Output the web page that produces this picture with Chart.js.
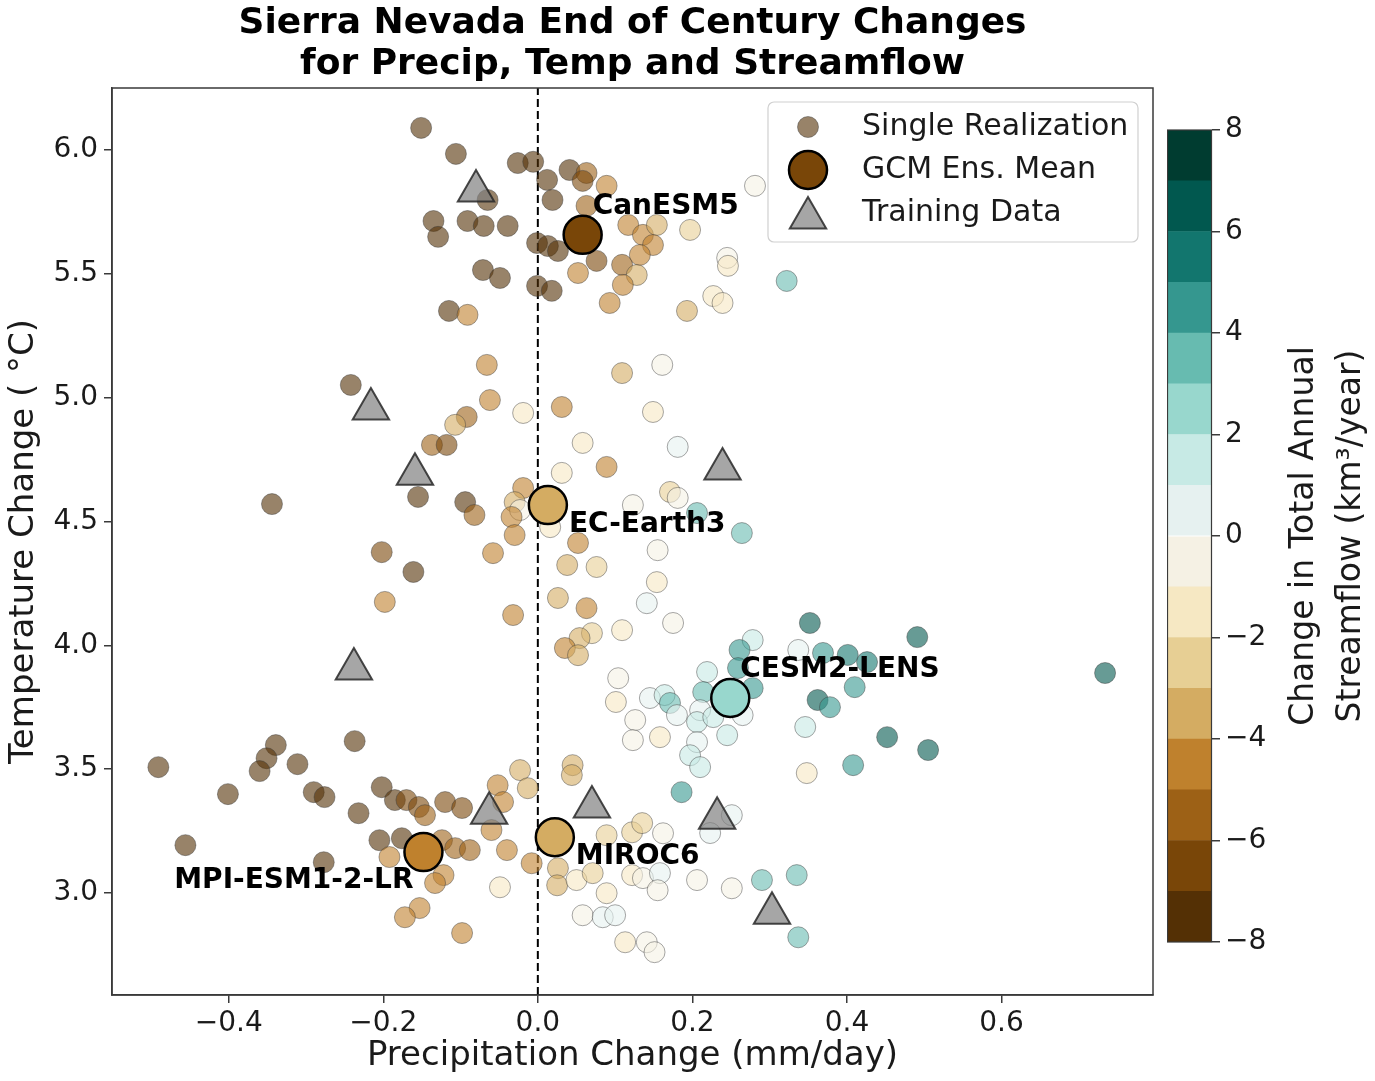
<!DOCTYPE html>
<html>
<head>
<meta charset="utf-8">
<title>Sierra Nevada End of Century Changes</title>
<script src="https://cdn.jsdelivr.net/npm/chart.js@4.4.0/dist/chart.umd.min.js"></script>
<style>
  html, body { margin: 0; padding: 0; background: #fff; }
  #wrap { position: relative; width: 1375px; height: 1081px; overflow: hidden; }
  #main { position: absolute; left: 0; top: 0; }
  #cbar { position: absolute; left: 1167px; top: 0; }
</style>
</head>
<body>
<div id="wrap">
  <canvas id="main" width="1375" height="1081" style="width:1375px;height:1081px"></canvas>
  <canvas id="cbar" width="208" height="1081" style="width:208px;height:1081px"></canvas>
</div>
<script>
// single realizations: precip change (mm/day), temp change (C), streamflow change (km3/yr)
const precipChange = [
  -0.151, -0.106, -0.065, -0.026, -0.006, 0.012, 0.019, 0.041, 0.063, 0.058,
  0.089, -0.135, -0.129, -0.091, -0.070, -0.039, -0.001, 0.013, 0.026, 0.063,
  0.117, 0.136, 0.154, 0.149, 0.132, 0.109, 0.128, 0.110, 0.076, 0.052,
  0.197, 0.281, 0.245, 0.246, 0.227, 0.239, 0.193, 0.093, -0.001, 0.018,
  -0.071, -0.049, -0.115, -0.091, 0.322, -0.066, 0.109, 0.161, -0.062, -0.242,
  0.031, -0.019, 0.149, -0.092, -0.107, -0.137, -0.118, 0.058, 0.181, 0.089,
  0.031, -0.155, -0.344, -0.094, -0.082, -0.019, -0.030, -0.023, -0.034, -0.030,
  0.016, 0.052, 0.123, 0.171, 0.181, 0.206, 0.264, 0.155, -0.058, -0.202,
  -0.161, -0.198, 0.038, 0.076, 0.154, 0.141, 0.026, 0.063, -0.032, 0.109,
  0.175, 0.070, 0.054, 0.035, 0.052, 0.104, 0.101, 0.352, 0.491, 0.734,
  0.278, 0.261, 0.337, 0.369, 0.401, 0.426, 0.219, 0.259, 0.278, 0.410,
  0.214, 0.145, 0.164, 0.171, 0.362, 0.378, 0.210, 0.180, 0.206, 0.265,
  0.227, 0.126, 0.346, 0.123, 0.158, 0.206, 0.245, 0.197, 0.210, 0.452,
  0.505, 0.408, 0.348, 0.186, 0.251, 0.223, 0.045, 0.044, -0.023, -0.013,
  -0.052, -0.045, -0.060, -0.040, -0.008, 0.026, 0.025, -0.049, -0.098, 0.089,
  0.122, 0.135, 0.162, 0.050, 0.071, 0.122, 0.136, 0.158, 0.155, 0.206,
  0.251, 0.290, 0.089, 0.058, 0.084, 0.100, 0.113, 0.141, 0.151, 0.335,
  0.337, -0.491, -0.456, -0.401, -0.339, -0.351, -0.360, -0.311, -0.237, -0.290,
  -0.276, -0.232, -0.202, -0.185, -0.170, -0.154, -0.146, -0.120, -0.205, -0.176,
  -0.192, -0.124, -0.107, -0.277, -0.122, -0.133, -0.153, -0.172, -0.088, -0.098
];
const tempChange = [
  6.089, 5.984, 5.798, 5.947, 5.952, 5.879, 5.798, 5.919, 5.907, 5.875,
  5.855, 5.713, 5.649, 5.713, 5.693, 5.693, 5.624, 5.612, 5.592, 5.774,
  5.697, 5.657, 5.697, 5.616, 5.576, 5.536, 5.495, 5.455, 5.552, 5.503,
  5.677, 5.855, 5.564, 5.532, 5.410, 5.382, 5.350, 5.382, 5.451, 5.431,
  5.515, 5.483, 5.350, 5.334, 5.471, 5.132, 5.099, 5.132, 4.990, 5.051,
  4.962, 4.938, 4.942, 4.922, 4.890, 4.809, 4.809, 4.817, 4.801, 4.720,
  4.696, 4.599, 4.570, 4.578, 4.526, 4.635, 4.578, 4.546, 4.518, 4.445,
  4.477, 4.413, 4.566, 4.619, 4.595, 4.534, 4.453, 4.384, 4.372, 4.376,
  4.296, 4.175, 4.324, 4.316, 4.255, 4.170, 4.191, 4.150, 4.122, 4.061,
  4.090, 4.049, 4.029, 3.989, 3.960, 3.867, 3.771, 4.090, 4.033, 3.888,
  4.021, 3.981, 3.981, 3.969, 3.961, 3.932, 3.892, 3.908, 3.827, 3.831,
  3.811, 3.787, 3.799, 3.767, 3.779, 3.750, 3.738, 3.718, 3.690, 3.718,
  3.710, 3.698, 3.670, 3.617, 3.629, 3.609, 3.637, 3.556, 3.508, 3.629,
  3.577, 3.516, 3.484, 3.407, 3.314, 3.242, 3.516, 3.476, 3.496, 3.423,
  3.435, 3.367, 3.254, 3.173, 3.120, 3.100, 3.031, 3.023, 2.838, 3.233,
  3.245, 3.282, 3.241, 3.052, 3.080, 3.072, 3.060, 3.080, 3.011, 3.052,
  3.019, 3.052, 2.999, 2.910, 2.902, 2.910, 2.801, 2.801, 2.761, 3.072,
  2.821, 3.508, 3.193, 3.399, 3.597, 3.544, 3.492, 3.520, 3.613, 3.407,
  3.387, 3.322, 3.427, 3.375, 3.375, 3.347, 3.314, 3.367, 3.213, 3.221,
  3.145, 3.213, 3.181, 3.124, 3.072, 3.040, 2.939, 2.902, 3.173, 3.343
];
const flowChange = [
  -7.5, -7.5, -7.5, -7.5, -7.5, -7.5, -7.5, -7.5, -5.5, -6.5,
  -4.5, -7.5, -7.5, -7.5, -7.5, -7.5, -7.5, -7.5, -7.5, -5.5,
  -4.5, -4.5, -3.5, -4.5, -4.5, -5.5, -3.5, -4.5, -6.5, -4.5,
  -2.5, -0.5, -0.5, -1.5, -1.5, -1.5, -3.5, -4.5, -7.5, -7.5,
  -7.5, -7.5, -7.5, -4.5, 3.5, -4.5, -3.5, -0.5, -4.5, -7.5,
  -4.5, -1.5, -1.5, -5.5, -3.5, -5.5, -6.5, -1.5, 0.5, -4.5,
  -1.5, -7.5, -7.5, -7.5, -5.5, -4.5, -3.5, -0.5, -4.5, -4.5,
  -1.5, -4.5, -0.5, -2.5, -0.5, 3.5, 3.5, -0.5, -4.5, -6.5,
  -7.5, -4.5, -3.5, -2.5, -1.5, 0.5, -3.5, -4.5, -4.5, -1.5,
  -0.5, -2.5, -3.5, -4.5, -3.5, -0.5, -1.5, 6.5, 6.5, 6.5,
  1.5, 4.5, 0.5, 4.5, 5.5, 5.5, 1.5, 4.5, 4.5, 4.5,
  3.5, 0.5, 1.5, 3.5, 6.5, 4.5, 0.5, 0.5, 1.5, 0.5,
  1.5, -0.5, 1.5, -0.5, -1.5, 0.5, 1.5, 1.5, 1.5, 6.5,
  6.5, 4.5, -1.5, 4.5, 0.5, 0.5, -3.5, -3.5, -3.5, -3.5,
  -4.5, -4.5, -4.5, -4.5, -4.5, -3.5, -3.5, -1.5, -4.5, -2.5,
  -2.5, -2.5, -0.5, -1.5, -2.5, -1.5, -0.5, 0.5, -0.5, -0.5,
  -0.5, 3.5, -1.5, -0.5, 0.5, 0.5, -1.5, -0.5, -0.5, 3.5,
  3.5, -7.5, -7.5, -7.5, -7.5, -7.5, -7.5, -7.5, -7.5, -7.5,
  -7.5, -7.5, -7.5, -7.5, -6.5, -6.5, -5.5, -6.5, -7.5, -7.5,
  -4.5, -5.5, -5.5, -7.5, -4.5, -4.5, -4.5, -4.5, -5.5, -6.5
];

// GCM ensemble means
const gcmNames = ['CanESM5', 'EC-Earth3', 'CESM2-LENS', 'MIROC6', 'MPI-ESM1-2-LR'];
const gcmPrecip = [0.058, 0.013, 0.249, 0.022, -0.148];
const gcmTemp = [5.657, 4.566, 3.787, 3.225, 3.165];
const gcmFlow = [-6.5, -3.5, 2.5, -3.5, -4.5];

// training data
const trainPrecip = [-0.080, -0.216, -0.159, 0.239, -0.238, -0.063, 0.070, 0.232, 0.303];
const trainTemp = [5.834, 4.954, 4.691, 4.712, 3.904, 3.322, 3.347, 3.302, 2.918];

const xTicks = [-0.4, -0.2, 0.0, 0.2, 0.4, 0.6];
const yTicks = [3.0, 3.5, 4.0, 4.5, 5.0, 5.5, 6.0];
const cbarTicks = [-8, -6, -4, -2, 0, 2, 4, 6, 8];
const cbarEdges = [-8, -7, -6, -5, -4, -3, -2, -1, 0, 1, 2, 3, 4, 5, 6, 7, 8];

const X_MIN = -0.551, X_MAX = 0.796, Y_MIN = 2.588, Y_MAX = 6.25;
const FONT = 'DejaVu Sans';
const TEXT = '#1a1a1a';
const AXIS = '#3a3a3a';
const POINT_ALPHA = 0.6;

Chart.defaults.font.family = FONT;
Chart.defaults.color = TEXT;

// BrBG colormap, 16 discrete levels
const brbgStops = ['#543005', '#8c510a', '#bf812d', '#dfc27d', '#f6e8c3', '#f5f5f5',
                   '#c7eae5', '#80cdc1', '#35978f', '#01665e', '#003c30'];
function hexRgb(h) {
  return [1, 3, 5].map(i => parseInt(h.substr(i, 2), 16));
}
function brbg(t) {
  const n = brbgStops.length - 1;
  const p = t * n;
  const i = Math.min(Math.floor(p), n - 1);
  const f = p - i;
  const a = hexRgb(brbgStops[i]), b = hexRgb(brbgStops[i + 1]);
  return a.map((c, k) => Math.round(c + (b[k] - c) * f));
}
function flowColor(v, alpha = 1) {
  const bin = Math.max(0, Math.min(15, Math.floor(v + 8)));
  const c = brbg(bin / 15);
  return `rgba(${c[0]}, ${c[1]}, ${c[2]}, ${alpha})`;
}
const minus = s => s.replace('-', '\u2212');

// label offsets (px) for the model names next to the ensemble means
const labelOffsets = {
  'CanESM5': [10, -28, 'left'],
  'EC-Earth3': [21, 20, 'left'],
  'CESM2-LENS': [10, -28, 'left'],
  'MIROC6': [21, 19, 'left'],
  'MPI-ESM1-2-LR': [-10, 29, 'right']
};

function drawTriangle(ctx, x, y, r) {
  ctx.beginPath();
  for (let k = 0; k < 3; k++) {
    const a = k * 2 * Math.PI / 3;
    const px = x + Math.sin(a) * r, py = y - Math.cos(a) * r;
    if (k === 0) ctx.moveTo(px, py); else ctx.lineTo(px, py);
  }
  ctx.closePath();
  ctx.fill();
  ctx.stroke();
}
function drawCircle(ctx, x, y, r) {
  ctx.beginPath();
  ctx.arc(x, y, r, 0, Math.PI * 2);
  ctx.fill();
  ctx.stroke();
}

const mainDecor = {
  id: 'mainDecor',
  afterDraw(chart) {
    const ctx = chart.ctx;
    const a = chart.chartArea;
    const xs = chart.scales.x, ys = chart.scales.y;
    ctx.save();

    // axes frame
    ctx.strokeStyle = AXIS;
    ctx.lineWidth = 1.5;
    ctx.strokeRect(a.left, a.top, a.right - a.left, a.bottom - a.top);

    // title, centred over the axes
    ctx.fillStyle = '#000';
    ctx.font = `bold 36px ${FONT}`;
    ctx.textAlign = 'center';
    ctx.textBaseline = 'middle';
    const cx = (a.left + a.right) / 2;
    ctx.fillText('Sierra Nevada End of Century Changes', cx, a.top - 64);
    ctx.fillText('for Precip, Temp and Streamflow', cx, a.top - 23);

    // model names
    ctx.font = `bold 28px ${FONT}`;
    gcmNames.forEach((name, i) => {
      const [dx, dy, align] = labelOffsets[name];
      ctx.textAlign = align;
      ctx.fillText(name, xs.getPixelForValue(gcmPrecip[i]) + dx, ys.getPixelForValue(gcmTemp[i]) + dy);
    });

    // legend box (upper right)
    const w = 370, h = 140;
    const lx = a.right - 15 - w, ly = a.top + 14;
    ctx.beginPath();
    ctx.roundRect(lx, ly, w, h, 6);
    ctx.fillStyle = 'rgba(255,255,255,0.85)';
    ctx.fill();
    ctx.strokeStyle = '#d0d0d0';
    ctx.lineWidth = 1.2;
    ctx.stroke();

    const sx = lx + 40;
    const rows = [ly + 25, ly + 68, ly + 111];
    ctx.fillStyle = flowColor(-7.5, POINT_ALPHA);
    ctx.strokeStyle = 'rgba(60,60,60,0.45)';
    ctx.lineWidth = 1;
    drawCircle(ctx, sx, rows[0], 10.5);
    ctx.fillStyle = flowColor(-6.5);
    ctx.strokeStyle = '#000';
    ctx.lineWidth = 2.5;
    drawCircle(ctx, sx, rows[1], 19);
    ctx.fillStyle = 'rgba(128,128,128,0.7)';
    ctx.strokeStyle = 'rgba(40,40,40,0.85)';
    ctx.lineWidth = 2;
    drawTriangle(ctx, sx, rows[2] + 5, 21);

    ctx.fillStyle = TEXT;
    ctx.font = `30px ${FONT}`;
    ctx.textAlign = 'left';
    ctx.textBaseline = 'middle';
    ctx.fillText('Single Realization', lx + 94, rows[0]);
    ctx.fillText('GCM Ens. Mean', lx + 94, rows[1]);
    ctx.fillText('Training Data', lx + 94, rows[2]);
    ctx.restore();
  }
};

const mainChart = new Chart(document.getElementById('main'), {
  type: 'scatter',
  data: {
    datasets: [
      {
        label: 'zero',
        data: [{ x: 0, y: Y_MIN }, { x: 0, y: Y_MAX }],
        showLine: true,
        borderColor: '#000',
        borderWidth: 2,
        borderDash: [8, 4],
        pointRadius: 0,
        order: 5
      },
      {
        label: 'Single Realization',
        data: precipChange.map((x, i) => ({ x: x, y: tempChange[i] })),
        pointRadius: 10.5,
        pointBackgroundColor: flowChange.map(v => flowColor(v, POINT_ALPHA)),
        pointBorderColor: 'rgba(60,60,60,0.45)',
        pointBorderWidth: 1,
        order: 3
      },
      {
        label: 'Training Data',
        data: trainPrecip.map((x, i) => ({ x: x, y: trainTemp[i] })),
        pointStyle: 'triangle',
        pointRadius: 21,
        pointBackgroundColor: 'rgba(128,128,128,0.7)',
        pointBorderColor: 'rgba(40,40,40,0.85)',
        pointBorderWidth: 2,
        order: 2
      },
      {
        label: 'GCM Ens. Mean',
        data: gcmPrecip.map((x, i) => ({ x: x, y: gcmTemp[i] })),
        pointRadius: 19,
        pointBackgroundColor: gcmFlow.map(v => flowColor(v)),
        pointBorderColor: '#000',
        pointBorderWidth: 2.5,
        order: 1
      }
    ]
  },
  options: {
    responsive: false,
    animation: false,
    events: [],
    layout: { padding: { top: 88, right: 222, bottom: 0, left: 0 } },
    plugins: {
      legend: { display: false },
      tooltip: { enabled: false }
    },
    scales: {
      x: {
        type: 'linear',
        min: X_MIN,
        max: X_MAX,
        afterBuildTicks: s => { s.ticks = xTicks.map(v => ({ value: v })); },
        afterFit: s => { s.height = 86; },
        ticks: {
          font: { size: 28 },
          color: TEXT,
          padding: 4,
          maxRotation: 0,
          callback: v => minus(v.toFixed(1))
        },
        grid: { drawOnChartArea: false, tickLength: 8, color: AXIS, lineWidth: 1.5 },
        border: { color: AXIS, width: 1.5 },
        title: {
          display: true,
          text: 'Precipitation Change (mm/day)',
          font: { size: 34 },
          color: TEXT,
          padding: { top: 0, bottom: 4 }
        }
      },
      y: {
        type: 'linear',
        min: Y_MIN,
        max: Y_MAX,
        afterBuildTicks: s => { s.ticks = yTicks.map(v => ({ value: v })); },
        afterFit: s => { s.width = 112; },
        ticks: {
          font: { size: 28 },
          color: TEXT,
          padding: 6,
          callback: v => v.toFixed(1)
        },
        grid: { drawOnChartArea: false, tickLength: 8, color: AXIS, lineWidth: 1.5 },
        border: { color: AXIS, width: 1.5 },
        title: {
          display: true,
          text: 'Temperature Change ( \u00b0C)',
          font: { size: 34 },
          color: TEXT,
          padding: { top: 4, bottom: 0 }
        }
      }
    }
  },
  plugins: [mainDecor]
});

// colour bar
const cbarDecor = {
  id: 'cbarDecor',
  afterDraw(chart) {
    const ctx = chart.ctx;
    const a = chart.chartArea;
    ctx.save();
    ctx.strokeStyle = AXIS;
    ctx.lineWidth = 1.2;
    ctx.strokeRect(a.left + 0.5, a.top, a.right - a.left - 1, a.bottom - a.top);

    ctx.fillStyle = TEXT;
    ctx.font = `33px ${FONT}`;
    ctx.textAlign = 'center';
    ctx.textBaseline = 'middle';
    const cy = (a.top + a.bottom) / 2;
    [['Change in Total Annual', 137], ['Streamflow (km\u00b3/year)', 184]].forEach(([t, x]) => {
      ctx.save();
      ctx.translate(x, cy);
      ctx.rotate(-Math.PI / 2);
      ctx.fillText(t, 0, 0);
      ctx.restore();
    });
    ctx.restore();
  }
};

const cbarChart = new Chart(document.getElementById('cbar'), {
  type: 'bar',
  data: {
    labels: [''],
    datasets: cbarEdges.slice(0, -1).map((lo, i) => ({
      data: [[lo, cbarEdges[i + 1]]],
      backgroundColor: flowColor(lo + 0.5),
      borderWidth: 0,
      grouped: false,
      barPercentage: 1,
      categoryPercentage: 1
    }))
  },
  options: {
    responsive: false,
    animation: false,
    events: [],
    layout: { padding: { top: 130, bottom: 139, left: 0, right: 0 } },
    plugins: {
      legend: { display: false },
      tooltip: { enabled: false }
    },
    scales: {
      x: { display: false },
      y: {
        position: 'right',
        min: -8,
        max: 8,
        afterBuildTicks: s => { s.ticks = cbarTicks.map(v => ({ value: v })); },
        afterFit: s => { s.width = 163; },
        ticks: {
          font: { size: 28 },
          color: TEXT,
          padding: 5,
          callback: v => minus(String(v))
        },
        grid: { drawOnChartArea: false, tickLength: 8, color: AXIS, lineWidth: 1.5 },
        border: { display: false }
      }
    }
  },
  plugins: [cbarDecor]
});
</script>
</body>
</html>
